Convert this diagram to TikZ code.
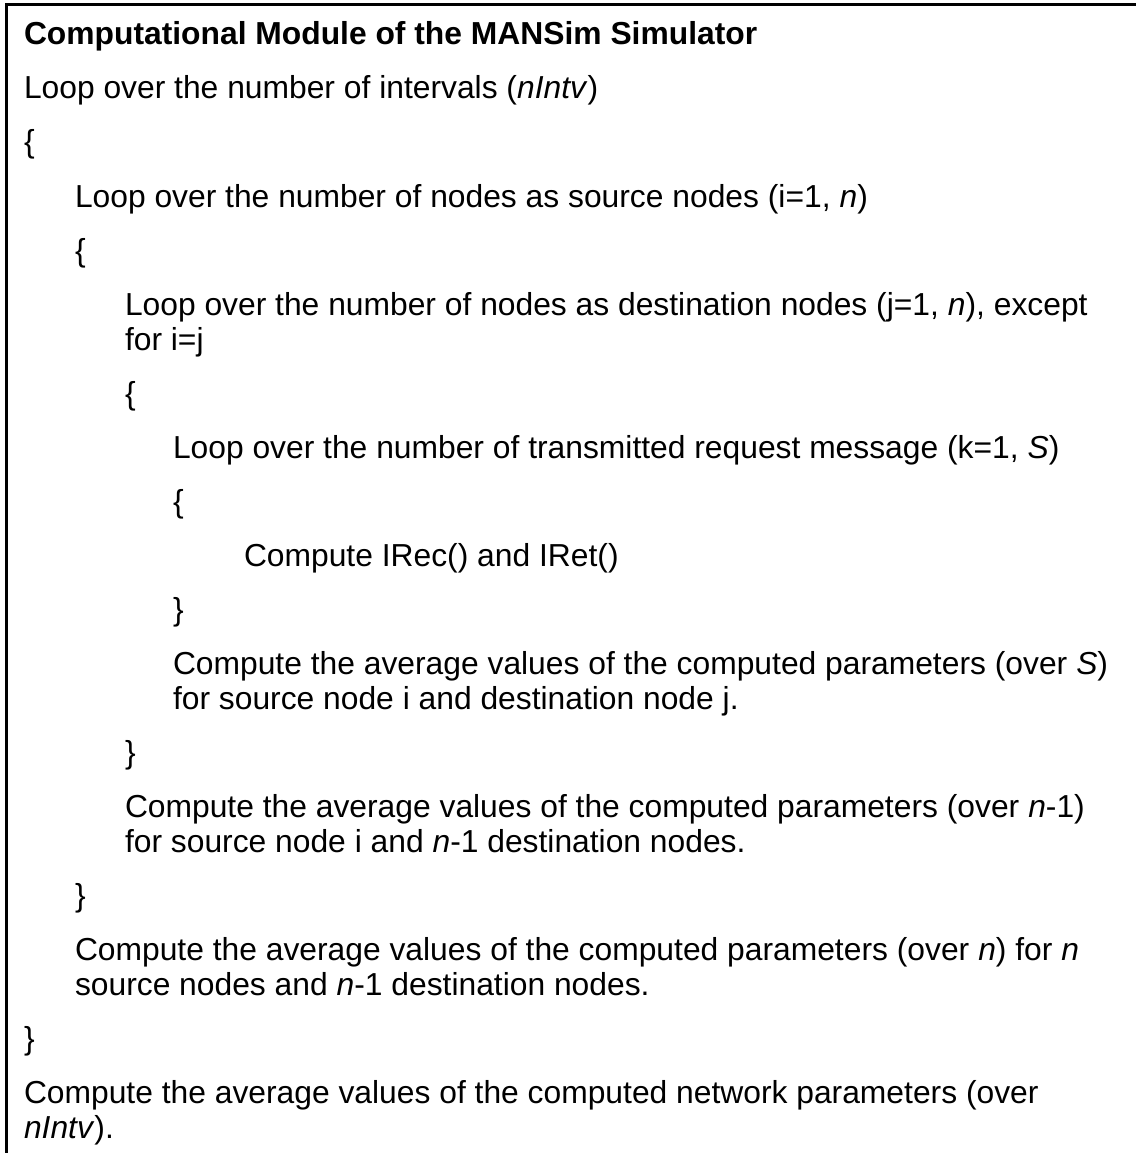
\documentclass[tikz,border=0pt]{standalone}
\usepackage{fontspec}
\setmainfont{Liberation Sans}
\begin{document}
\begin{tikzpicture}[x=1pt,y=-1pt,
  txt/.style={anchor=base west, inner sep=0pt, outer sep=0pt,
              font=\fontsize{31.8}{36}\selectfont},
  head/.style={txt, font=\fontsize{31.8}{36}\selectfont\bfseries},
  frame/.style={line width=3pt}]
\useasboundingbox (0,0) rectangle (1136,1153);
% indentation levels
\def\la{24}\def\lb{75}\def\lc{125}\def\ld{173}\def\le{244}
% frame edges
\draw[frame] (6.5,1153) -- (6.5,5) -- (1136,5);
% listing
\node[head] (t0)  at (\la,45)   {Computational Module of the MANSim Simulator};
\node[txt]  (t1)  at (\la,99)   {Loop over the number of intervals (\textit{nIntv})};
\node[txt]  (t2)  at (\la,153)  {\{};
\node[txt]  (t3)  at (\lb,207)  {Loop over the number of nodes as source nodes (i=1, \textit{n})};
\node[txt]  (t4)  at (\lb,261)  {\{};
\node[txt]  (t5a) at (\lc,315)  {Loop over the number of nodes as destination nodes (j=1, \textit{n}), except};
\node[txt]  (t5b) at (\lc,350)  {for i=j};
\node[txt]  (t6)  at (\lc,404)  {\{};
\node[txt]  (t7)  at (\ld,458)  {Loop over the number of transmitted request message (k=1, \textit{S})};
\node[txt]  (t8)  at (\ld,512)  {\{};
\node[txt]  (t9)  at (\le,566)  {Compute IRec() and IRet()};
\node[txt]  (t10) at (\ld,620)  {\}};
\node[txt]  (t11a) at (\ld,674) {Compute the average values of the computed parameters (over \textit{S})};
\node[txt]  (t11b) at (\ld,709) {for source node i and destination node j.};
\node[txt]  (t12) at (\lc,763)  {\}};
\node[txt]  (t13a) at (\lc,817) {Compute the average values of the computed parameters (over \textit{n}-1)};
\node[txt]  (t13b) at (\lc,852) {for source node i and \textit{n}-1 destination nodes.};
\node[txt]  (t14) at (\lb,906)  {\}};
\node[txt]  (t15a) at (\lb,960) {Compute the average values of the computed parameters (over \textit{n}) for \textit{n}};
\node[txt]  (t15b) at (\lb,995) {source nodes and \textit{n}-1 destination nodes.};
\node[txt]  (t16) at (\la,1049) {\}};
\node[txt]  (t17a) at (\la,1103) {Compute the average values of the computed network parameters (over};
\node[txt]  (t17b) at (\la,1138) {\textit{nIntv}).};
\end{tikzpicture}
\end{document}
